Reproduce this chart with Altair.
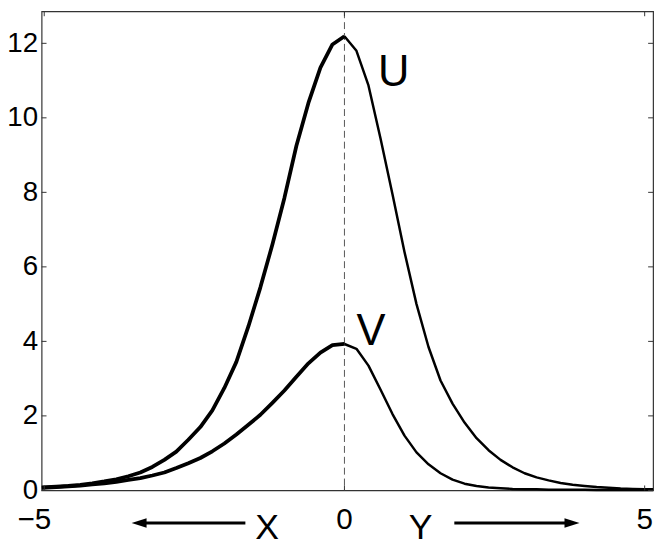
import altair as alt
import pandas as pd

# ---- data ----
x_left = [-5.04, -4.8, -4.6, -4.4, -4.2, -4.0, -3.8, -3.6, -3.4, -3.2, -3.0, -2.8, -2.6,
          -2.4, -2.2, -2.0, -1.8, -1.6, -1.4, -1.2, -1.0, -0.8, -0.6, -0.4, -0.2, 0.0]
u_left = [0.08, 0.10, 0.12, 0.15, 0.19, 0.24, 0.30, 0.38, 0.48, 0.63, 0.82, 1.04, 1.36,
          1.70, 2.15, 2.75, 3.45, 4.40, 5.45, 6.60, 7.85, 9.25, 10.40, 11.35, 11.97, 12.19]
v_left = [0.07, 0.09, 0.11, 0.13, 0.16, 0.19, 0.23, 0.28, 0.33, 0.40, 0.48, 0.60, 0.73,
          0.87, 1.05, 1.26, 1.50, 1.76, 2.03, 2.35, 2.68, 3.05, 3.41, 3.70, 3.90, 3.93]

x_right = [0.0, 0.2, 0.4, 0.6, 0.8, 1.0, 1.2, 1.4, 1.6, 1.8, 2.0, 2.2, 2.4, 2.6, 2.8, 3.0,
           3.2, 3.4, 3.6, 3.8, 4.0, 4.2, 4.4, 4.6, 4.8, 5.0, 5.14]
u_right = [12.19, 11.80, 10.87, 9.45, 7.95, 6.40, 5.00, 3.85, 2.95, 2.33, 1.82, 1.40, 1.08,
           0.82, 0.62, 0.46, 0.35, 0.27, 0.20, 0.15, 0.12, 0.09, 0.07, 0.05, 0.04, 0.03, 0.03]
v_right = [3.93, 3.80, 3.35, 2.71, 2.05, 1.47, 1.02, 0.70, 0.46, 0.29, 0.18, 0.12, 0.08,
           0.06, 0.04, 0.03, 0.03, 0.02, 0.02, 0.02, 0.02, 0.01, 0.01, 0.01, 0.01, 0.01, 0.01]

x_ticks = [-5, 0, 5]
x_tick_labels = ["\u22125", "0", "5"]
y_ticks = [0, 2, 4, 6, 8, 10, 12]

curve_labels = ["U", "V"]
curve_label_x = [0.82, 0.44]
curve_label_y = [11.2, 4.25]

dir_labels = ["X", "Y"]
dir_label_x = [-1.29, 1.27]
arrow_tail = [-1.65, 1.83]
arrow_head = [-3.42, 3.79]

X_DOMAIN = [-5.044, 5.14]
Y_DOMAIN = [0, 12.86]
W, H = 619, 485
FONT = "Liberation Sans"

rows = []
for xs_, us, vs, side in [(x_left, u_left, v_left, "L"), (x_right, u_right, v_right, "R")]:
    for x, u, v in zip(xs_, us, vs):
        rows.append({"x": x, "val": u, "series": "U", "side": side})
        rows.append({"x": x, "val": v, "series": "V", "side": side})
curves = pd.DataFrame(rows)

xs = alt.Scale(domain=X_DOMAIN, nice=False, zero=False)
ys = alt.Scale(domain=Y_DOMAIN, nice=False, zero=False)

yaxis = alt.Axis(values=y_ticks, ticks=False, domain=False, grid=False, title=None,
                 labelFont=FONT, labelFontSize=28, labelColor="black", labelPadding=4)

X = lambda f: alt.X(f, type="quantitative", scale=xs, axis=None)
Y = lambda f: alt.Y(f, type="quantitative", scale=ys, axis=yaxis)

base = alt.Chart(curves)

line_left = base.transform_filter(alt.datum.side == "L").mark_line(
    color="black", strokeWidth=3.8, strokeJoin="round"
).encode(x=X("x"), y=Y("val"), detail="series:N")
line_right = base.transform_filter(alt.datum.side == "R").mark_line(
    color="black", strokeWidth=2.5, strokeJoin="round"
).encode(x=X("x"), y=Y("val"), detail="series:N")

zero_line = alt.Chart(pd.DataFrame({"x": [0]})).mark_rule(
    color="#555555", strokeWidth=1, strokeDash=[7, 4]
).encode(x=X("x"), y=alt.value(0), y2=alt.value(H))

xt = alt.Chart(pd.DataFrame({"x": x_ticks}))
yt = alt.Chart(pd.DataFrame({"y": y_ticks}))
tick_style = dict(color="#333333", strokeWidth=1)
ticks = [
    xt.mark_rule(**tick_style).encode(x=X("x"), y=alt.value(H), y2=alt.value(H - 5)),
    xt.mark_rule(**tick_style).encode(x=X("x"), y=alt.value(0), y2=alt.value(5)),
    yt.mark_rule(**tick_style).encode(y=Y("y"), x=alt.value(0), x2=alt.value(5)),
    yt.mark_rule(**tick_style).encode(y=Y("y"), x=alt.value(W), x2=alt.value(W - 5)),
]

xlab_df = pd.DataFrame({"x": x_ticks, "t": x_tick_labels})
xlab_neg = alt.Chart(xlab_df).transform_filter(alt.datum.x < 0).mark_text(
    font=FONT, fontSize=30, baseline="middle", align="center", dx=-10, color="black"
).encode(x=X("x"), y=alt.value(H + 30), text="t:N")
xlab_pos = alt.Chart(xlab_df).transform_filter(alt.datum.x >= 0).mark_text(
    font=FONT, fontSize=30, baseline="middle", align="center", color="black"
).encode(x=X("x"), y=alt.value(H + 30), text="t:N")

lab = alt.Chart(pd.DataFrame({"x": curve_label_x, "y": curve_label_y, "t": curve_labels})).mark_text(
    font=FONT, fontSize=44, baseline="middle", align="center", color="black"
).encode(x=X("x"), y=Y("y"), text="t:N")

dir_df = pd.DataFrame({"x": dir_label_x, "t": dir_labels, "tail": arrow_tail, "head": arrow_head})
dir_text = alt.Chart(dir_df).mark_text(
    font=FONT, fontSize=36, baseline="middle", align="center", color="black"
).encode(x=X("x"), y=alt.value(H + 38), text="t:N")
shafts = alt.Chart(dir_df).mark_rule(color="black", strokeWidth=3).encode(
    x=X("tail"), x2="head:Q", y=alt.value(H + 33)
)
head_r = alt.Chart(dir_df).transform_filter(alt.datum.head > 0).mark_point(
    shape="M-1,-0.62L1,0L-1,0.62Z", filled=True, color="black", opacity=1, size=230
).encode(x=X("head"), y=alt.value(H + 33))
head_l = alt.Chart(dir_df).transform_filter(alt.datum.head < 0).mark_point(
    shape="M1,-0.62L-1,0L1,0.62Z", filled=True, color="black", opacity=1, size=230
).encode(x=X("head"), y=alt.value(H + 33))

chart = alt.layer(
    zero_line, line_left, line_right, *ticks, xlab_neg, xlab_pos, lab,
    dir_text, shafts, head_r, head_l
).properties(
    width=W, height=H,
    padding={"left": 34, "top": 0, "right": 6, "bottom": 57},
    autosize="none",
).configure(background="white").configure_view(stroke="#333333", strokeWidth=1.2)

chart.save("out.html", embed_options={"renderer": "svg", "actions": False})
